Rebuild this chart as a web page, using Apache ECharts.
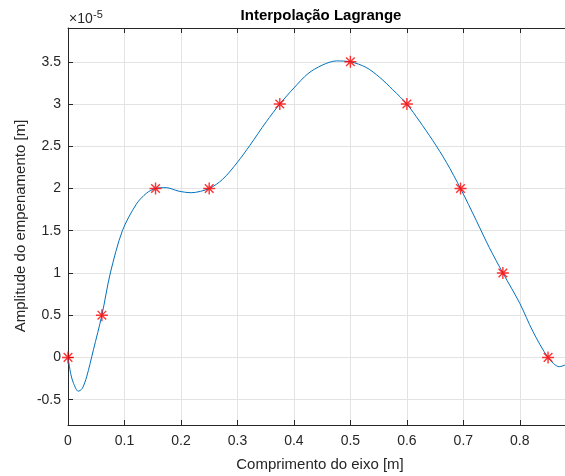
<!DOCTYPE html>
<html>
<head>
<meta charset="utf-8">
<script src="https://cdn.jsdelivr.net/npm/echarts@6/dist/echarts.min.js"></script>
<style>
    html, body { margin: 0; padding: 0; background: #fff; }
    #chart { width: 565px; height: 476px; }
</style>
</head>
<body>
<div id="chart"></div>
<script>
// 数据 (y 单位 ×10^-5)
var nodeX = [0, 0.06, 0.155, 0.25, 0.375, 0.5, 0.6, 0.695, 0.77, 0.85];
var nodeY = [0, 0.5, 2, 2, 3, 3.5, 3, 2, 1, 0];

// 曲线读数
var curveX = [0, 0.005, 0.01, 0.018, 0.025, 0.033, 0.045, 0.06, 0.075, 0.0963, 0.121, 0.139, 0.155,
    0.174, 0.195, 0.218, 0.25, 0.274, 0.3, 0.322, 0.351, 0.375, 0.4, 0.425, 0.45, 0.475, 0.5,
    0.528, 0.552, 0.575, 0.6, 0.622, 0.646, 0.67, 0.695, 0.723, 0.746, 0.77, 0.8, 0.823, 0.85, 0.87, 0.88];
var curveY = [0, -0.2, -0.31, -0.40, -0.37, -0.23, 0.09, 0.5, 1.0, 1.5, 1.815, 1.945, 2.0,
    2.01, 1.97, 1.95, 2.0, 2.11, 2.31, 2.51, 2.79, 3.0, 3.19, 3.36, 3.46, 3.51, 3.5,
    3.433, 3.315, 3.17, 3.0, 2.8, 2.567, 2.31, 2.0, 1.62, 1.30, 1.0, 0.64, 0.31, 0, -0.11, -0.09];

var xTicks = [0, 0.1, 0.2, 0.3, 0.4, 0.5, 0.6, 0.7, 0.8];
var yTicks = [-0.5, 0, 0.5, 1, 1.5, 2, 2.5, 3, 3.5];

var font = "'Liberation Sans', Arial, Helvetica, sans-serif";
var axisColor = "#262626";

(function () {
    var myChart = echarts.init(document.getElementById("chart"));

    var curve = curveX.map(function (x, i) { return [x, curveY[i]]; });
    var nodes = nodeX.map(function (x, i) { return [x, nodeY[i]]; });

    var option = {
        animation: false,
        textStyle: { fontFamily: font },
        title: {
            text: "Interpolação Lagrange",
            left: 316,
            textAlign: "center",
            top: 3,
            textStyle: { fontSize: 15, fontWeight: "bold", color: "#000", fontFamily: font }
        },
        graphic: [
            {
                type: "text",
                x: 69,
                y: 12,
                style: { text: "×10", fontSize: 14, fill: axisColor, fontFamily: font, verticalAlign: "top" }
            },
            {
                type: "text",
                x: 93,
                y: 9,
                style: { text: "-5", fontSize: 11, fill: axisColor, fontFamily: font, verticalAlign: "top" }
            },
            {
                type: "text",
                x: 320,
                y: 465,
                style: {
                    text: "Comprimento do eixo [m]",
                    fontSize: 15,
                    fill: axisColor,
                    fontFamily: font,
                    align: "center",
                    verticalAlign: "middle"
                }
            },
            {
                type: "text",
                x: 21,
                y: 226,
                rotation: Math.PI / 2,
                style: {
                    text: "Amplitude do empenamento [m]",
                    fontSize: 15,
                    fill: axisColor,
                    fontFamily: font,
                    align: "center",
                    verticalAlign: "middle"
                }
            }
        ],
        grid: {
            left: 68,
            top: 28,
            right: 0,
            bottom: 51,
            show: false
        },
        xAxis: [
            {
                type: "value",
                min: 0,
                max: 0.88,
                axisLine: { show: true, onZero: false, lineStyle: { color: axisColor, width: 1 } },
                axisTick: { show: true, inside: true, length: 5, customValues: xTicks, lineStyle: { color: axisColor } },
                axisLabel: {
                    customValues: xTicks,
                    color: axisColor,
                    fontSize: 14,
                    margin: 9,
                    formatter: function (v) { return String(v); }
                },
                splitLine: { show: true, lineStyle: { color: "#e3e3e3", width: 1 } }
            },
            {
                type: "value",
                position: "top",
                min: 0,
                max: 0.88,
                axisLine: { show: true, onZero: false, lineStyle: { color: axisColor, width: 1 } },
                axisTick: { show: true, inside: true, length: 5, customValues: xTicks, lineStyle: { color: axisColor } },
                axisLabel: { show: false },
                splitLine: { show: false }
            }
        ],
        yAxis: {
            type: "value",
            min: -0.8,
            max: 3.9,
            axisLine: { show: true, onZero: false, lineStyle: { color: axisColor, width: 1 } },
            axisTick: { show: true, inside: true, length: 5, customValues: yTicks, lineStyle: { color: axisColor } },
            axisLabel: {
                customValues: yTicks,
                color: axisColor,
                fontSize: 14,
                margin: 7,
                formatter: function (v) { return String(v); }
            },
            splitLine: { show: true, lineStyle: { color: "#e3e3e3", width: 1 } }
        },
        series: [
            {
                name: "curva",
                type: "line",
                data: curve,
                smooth: 0.3,
                showSymbol: false,
                symbol: "none",
                lineStyle: { color: "#0072BD", width: 1 },
                z: 2
            },
            {
                name: "pontos",
                type: "scatter",
                data: nodes,
                symbol: "path://M0,-5L0,5M-5,0L5,0M-3.6,-3.6L3.6,3.6M-3.6,3.6L3.6,-3.6",
                symbolSize: 12,
                itemStyle: { color: "none", borderColor: "#ff0000", borderWidth: 1.4 },
                z: 3
            }
        ]
    };

    myChart.setOption(option);
    window.addEventListener("resize", function () {
        myChart.resize();
    });
})();
</script>
</body>
</html>
